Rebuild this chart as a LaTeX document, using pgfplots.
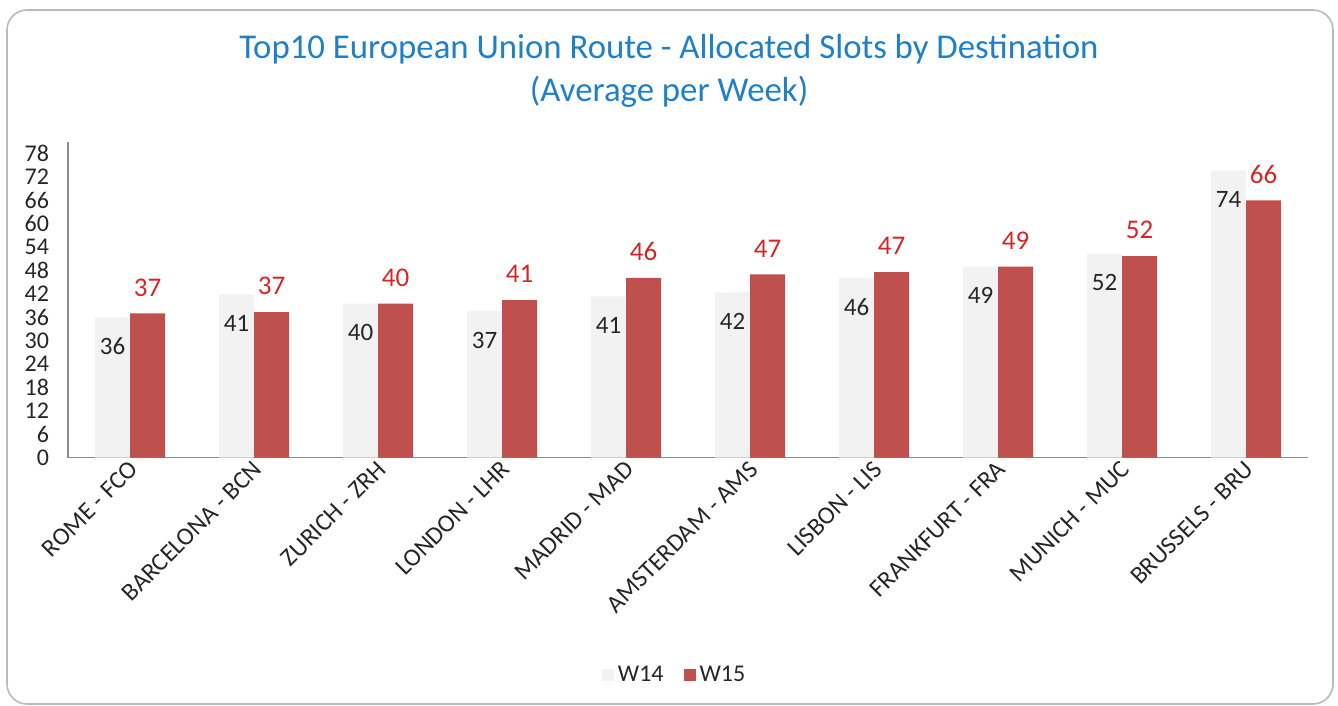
\documentclass[border=0pt]{standalone}
\usepackage{pgfplots}
\pgfplotsset{compat=1.18}
\usepackage{fontspec}
\setmainfont{Carlito}
\definecolor{wgray}{HTML}{F2F2F2}
\definecolor{wred}{HTML}{C0504D}
\definecolor{tblue}{HTML}{1F80C8}
\definecolor{lred}{HTML}{D42626}
\definecolor{axgray}{HTML}{8C8C8C}
\begin{document}
\begin{tikzpicture}
\path[use as bounding box] (0,0) rectangle (669pt,-353pt);
\draw[gray!55, line width=0.8pt, rounded corners=10pt] (3.5pt,-5pt) rectangle (666.5pt,-352pt);
\node[anchor=base, font=\fontsize{17.4}{20}\selectfont, text=tblue, inner sep=0pt] at (334.5pt,-29.5pt) {Top10 European Union Route - Allocated Slots by Destination};
\node[anchor=base, font=\fontsize{17.4}{20}\selectfont, text=tblue, inner sep=0pt] at (334.5pt,-51pt) {(Average per Week)};
\begin{axis}[
  at={(34pt,-228.75pt)}, anchor=south west,
  scale only axis, width=620pt, height=157.75pt,
  xmin=-0.5, xmax=9.5, ymin=0, ymax=81,
  ybar=0pt, bar width=17.5pt,
  axis x line=bottom, axis y line=left,
  axis line style={draw=axgray, line width=0.6pt, -},
  ytick={0,6,...,78},
  xtick={0,...,9},
  xticklabels={ROME - FCO, BARCELONA - BCN, ZURICH - ZRH, LONDON - LHR, MADRID - MAD, AMSTERDAM - AMS, LISBON - LIS, FRANKFURT - FRA, MUNICH - MUC, BRUSSELS - BRU},
  major tick length=0pt,
  /pgf/number format/assume math mode=true,
  yticklabel style={font=\fontsize{12}{13}\selectfont, text=black!85, xshift=-6pt},
  xticklabel style={rotate=45, anchor=east, font=\fontsize{12.5}{14}\selectfont, text=black!85, yshift=-4pt, xshift=2pt},
  point meta=explicit,
  nodes near coords,
  clip=false,
  legend style={at={(0.49,-0.689)}, anchor=center, draw=none, fill=none, legend columns=2, font=\fontsize{12}{14}\selectfont, text=black!85, /tikz/every even column/.append style={column sep=8pt}},
  legend image code/.code={\fill[#1] (0pt,-3pt) rectangle (6pt,3pt);},
]
\addplot[fill=wgray, draw=none, nodes near coords style={anchor=center, yshift=-14.5pt, font=\fontsize{12.5}{14}\selectfont, text=black!85}] coordinates {
 (0,36.0) [36] (1,41.8) [41] (2,39.5) [40] (3,37.6) [37] (4,41.4) [41]
 (5,42.4) [42] (6,46.1) [46] (7,49.0) [49] (8,52.3) [52] (9,73.7) [74]};
\addplot[fill=wred, draw=none, nodes near coords style={anchor=center, yshift=13pt, font=\fontsize{13.5}{15}\selectfont, text=lred}] coordinates {
 (0,37.0) [37] (1,37.3) [37] (2,39.5) [40] (3,40.4) [41] (4,46.1) [46]
 (5,47.0) [47] (6,47.6) [47] (7,49.0) [49] (8,51.7) [52] (9,66.0) [66]};
\legend{W14, W15}
\end{axis}
\end{tikzpicture}
\end{document}
